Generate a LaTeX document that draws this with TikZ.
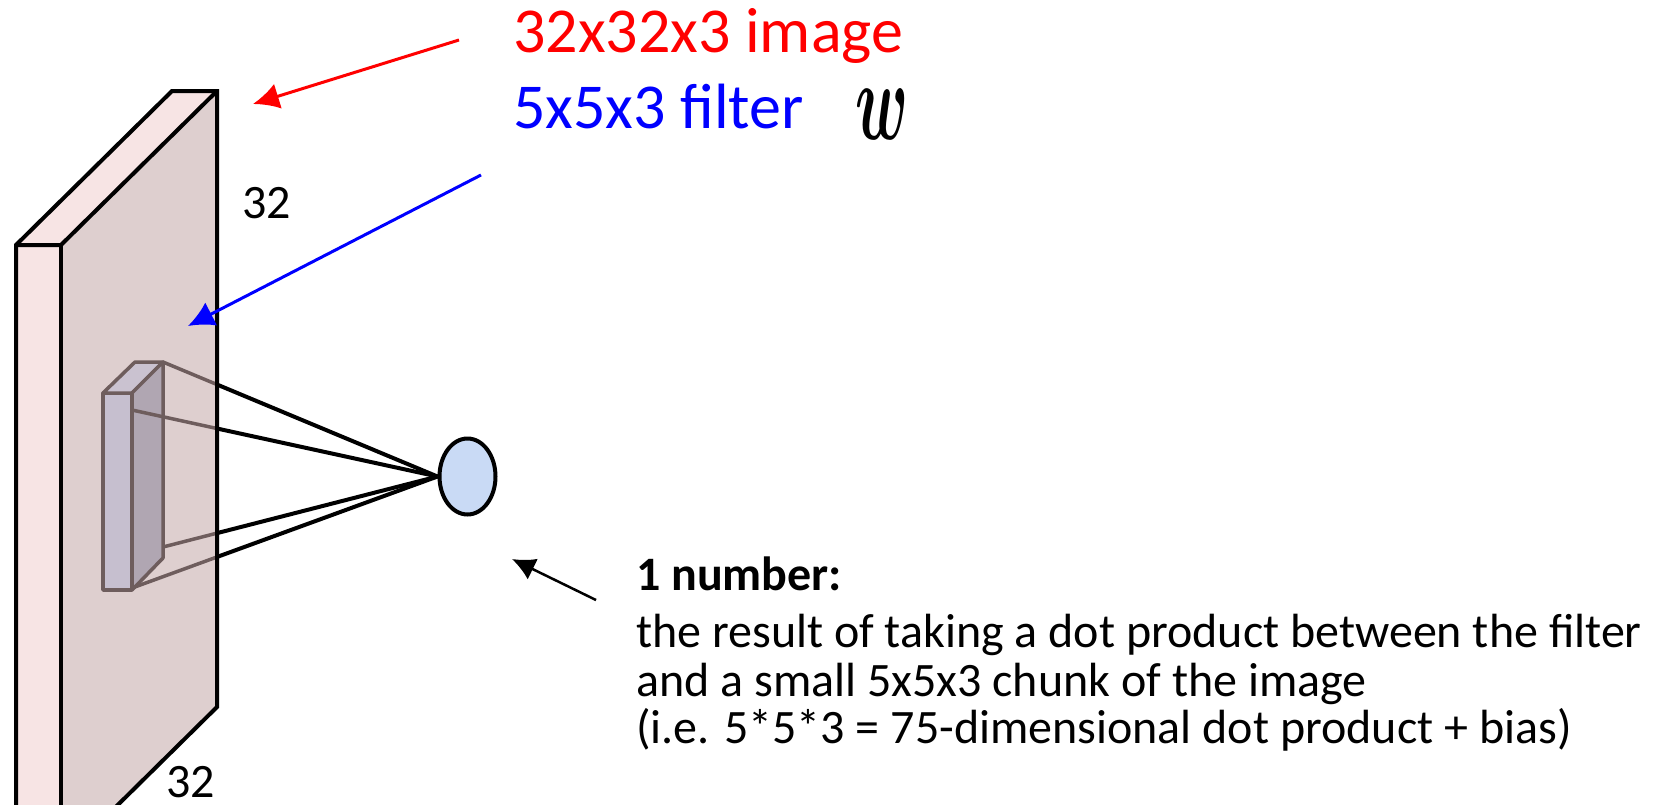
\documentclass[tikz,border=0pt]{standalone}
\usepackage{fontspec}
\usepackage{graphicx}
\usepackage{bm}
\setmainfont{Carlito}
\usetikzlibrary{arrows.meta,shapes.geometric}
\definecolor{slabside}{HTML}{F7E4E4}
\definecolor{slabface}{HTML}{DECFCF}
\definecolor{filtfront}{HTML}{C6BFCF}
\definecolor{filtside}{HTML}{B0A6B2}
\definecolor{filttop}{HTML}{CAC2D0}
\definecolor{filtedge}{HTML}{6E5D5D}
\definecolor{neuron}{HTML}{C9DAF5}
\tikzset{
  slabline/.style={draw=black,line width=4pt,line join=miter},
  filtline/.style={draw=filtedge,line width=3.5pt,line join=round},
  conn/.style={line width=4pt,draw=black},
  pointer/.style={line width=3pt,-{Latex[length=26pt,width=26pt]}},
  body/.style={anchor=base west,inner sep=0pt,font=\fontsize{48}{48}\selectfont},
  title/.style={anchor=base west,inner sep=0pt,font=\fontsize{64}{64}\selectfont},
}
\begin{document}
\begin{tikzpicture}[x=1pt,y=-1pt]
\useasboundingbox (0,0) rectangle (1657,804);
\clip (0,0) rectangle (1657,804);
% slab
\coordinate (s1) at (16,245);
\coordinate (s2) at (61,245);
\coordinate (s3) at (217,91);
\coordinate (s4) at (172,91);
\coordinate (s5) at (217,707);
\coordinate (s6) at (61,861);
\coordinate (s7) at (16,861);
\fill[slabside] (s1) -- (s2) -- (s6) -- (s7) -- cycle;
\fill[slabside] (s1) -- (s4) -- (s3) -- (s2) -- cycle;
\fill[slabface] (s2) -- (s3) -- (s5) -- (s6) -- cycle;
\draw[slabline] (s7) -- (s1) -- (s4) -- (s3) -- (s5) -- (s6);
\draw[slabline] (s1) -- (s2) -- (s3);
\draw[slabline] (s2) -- (s6);
% filter
\coordinate (f1) at (103,393);
\coordinate (f2) at (132,393);
\coordinate (f3) at (163,362);
\coordinate (f4) at (135,362);
\coordinate (f5) at (163,558);
\coordinate (f6) at (132,590);
\coordinate (f7) at (103,590);
\filldraw[filtline,fill=filtfront] (f1) -- (f2) -- (f6) -- (f7) -- cycle;
\filldraw[filtline,fill=filttop] (f1) -- (f4) -- (f3) -- (f2) -- cycle;
\filldraw[filtline,fill=filtside] (f2) -- (f3) -- (f5) -- (f6) -- cycle;
% neuron
\node[ellipse,draw=black,line width=4pt,fill=neuron,minimum width=56pt,minimum height=76pt,inner sep=0pt] (n) at (467.5,476.5) {};
% connections
\coordinate (cA) at (163,362);
\coordinate (cB) at (132,410);
\coordinate (cC) at (163,547);
\coordinate (cD) at (132,588);
\begin{scope}
  \clip (217,0) rectangle (1657,804);
  \foreach \c in {cA,cB,cC,cD} {
    \draw[conn] (\c) -- (n.west);
  }
\end{scope}
\begin{scope}
  \clip (0,0) rectangle (217,804);
  \foreach \c in {cA,cB,cC,cD} {
    \draw[line width=3.5pt,draw=filtedge] (\c) -- (n.west);
  }
\end{scope}
\draw[slabline] (s3) -- (s5);
% labels
\node[title,text=red] (timg) at (513,52) {32x32x3 image};
\node[title,text=blue] (tfil) at (513,128) {5x5x3 filter};
\node[inner sep=0pt] (w) at (881.5,114) {\resizebox{53pt}{50pt}{$\bm{w}$}};
\node[body] (d1) at (242,218) {32};
\node[body] (d2) at (166,797) {32};
\node[body,font=\fontsize{48}{48}\selectfont\bfseries] (l0) at (636,590) {1 number:};
\node[body] (l1) at (636,647) {the result of taking a dot product between the filter};
\node[body] (l2) at (636,696) {and a small 5x5x3 chunk of the image};
\node[body] (l3) at (636,743) {(i.e. 5*5*3 = 75-dimensional dot product + bias)};
% pointers
\coordinate (rs) at (459,40);
\coordinate (re) at (253,104);
\coordinate (bs) at (481,175);
\coordinate (be) at (188,326);
\coordinate (ks) at (596,600);
\coordinate (ke) at (512,559);
\draw[pointer,draw=red,fill=red] (rs) -- (re);
\draw[pointer,draw=blue,fill=blue] (bs) -- (be);
\draw[pointer,line width=2.5pt,-{Latex[length=23pt,width=23pt]},draw=black,fill=black] (ks) -- (ke);
\end{tikzpicture}
\end{document}
